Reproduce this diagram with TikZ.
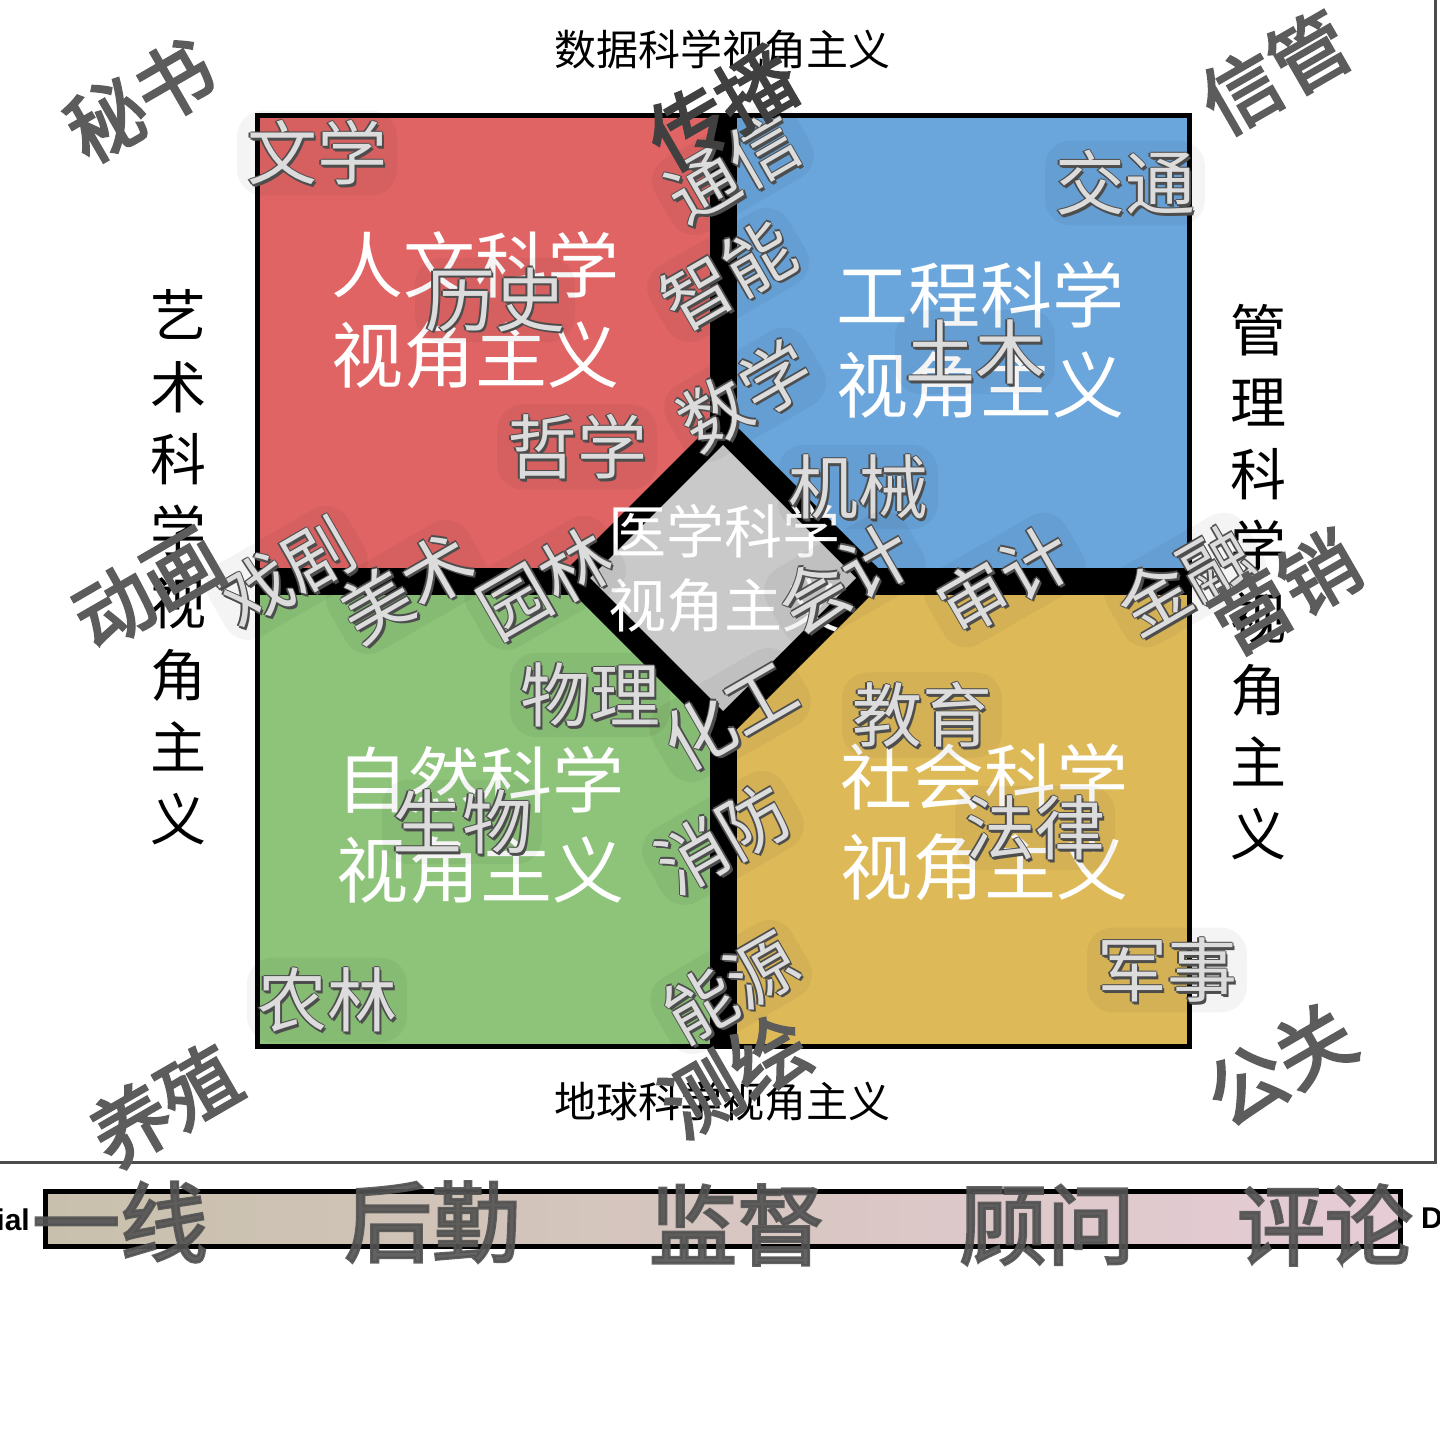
\documentclass[tikz,border=0pt]{standalone}
\usepackage{fontspec}
\newfontfamily\cjk{Noto Sans CJK SC}
\newfontfamily\cjkb{Noto Sans CJK SC}[FakeBold=3]
\setsansfont{Liberation Sans}
\definecolor{qred}{HTML}{E06464}
\definecolor{qblue}{HTML}{6AA6DC}
\definecolor{qgreen}{HTML}{8DC47A}
\definecolor{qyellow}{HTML}{DDB958}
\definecolor{qgrey}{HTML}{C9C9C9}
\definecolor{barl}{HTML}{C8C0AC}
\definecolor{barr}{HTML}{E6CCD6}
\definecolor{wmdark}{HTML}{5C5C5C}
\definecolor{wmshadow}{HTML}{4D4D4D}
\definecolor{wmlight}{HTML}{DCDCDC}
\tikzset{
  ttl/.style={text=white, font=\cjk\fontsize{72}{90}\selectfont, align=center, inner sep=0pt},
  medttl/.style={text=white, font=\cjk\fontsize{58}{74}\selectfont, align=center, inner sep=0pt},
  outl/.style={text=black, font=\cjk\fontsize{42}{42}\selectfont, inner sep=0pt},
  vlab/.style={text=black, font=\cjk\fontsize{56}{72}\selectfont, align=center, inner sep=0pt},
  dk/.style={text=wmdark, font=\cjkb\fontsize{78}{78}\selectfont, rotate=30, inner sep=0pt},
  barwm/.style={text=black!68, text opacity=0.9, font=\cjkb\fontsize{88}{88}\selectfont, inner sep=0pt},
  halo/.style={fill=black, fill opacity=0.045, text opacity=0, rounded corners=26pt, inner sep=10pt, font=\cjk\fontsize{70}{70}\selectfont},
  embsh/.style={text=wmshadow, font=\cjk\fontsize{70}{70}\selectfont, inner sep=0pt},
  embtx/.style={text=wmlight, font=\cjk\fontsize{70}{70}\selectfont, inner sep=0pt},
  frameline/.style={draw=black!70, line width=3pt},
  edgelab/.style={text=black, font=\sffamily\bfseries\fontsize{30}{30}\selectfont, inner sep=0pt}
}
\begin{document}
\begin{tikzpicture}[x=1pt,y=-1pt]
\useasboundingbox (0,0) rectangle (1440,1440);
\fill[white] (0,0) rectangle (1440,1440);

% frame
\coordinate (f1) at (1435,0);
\coordinate (f2) at (1435,1162);
\coordinate (f3) at (0,1162);
\draw[frameline] (f1) -- (f2) -- (f3);

% quadrants
\fill[black] (255,113) rectangle (1192,1049);
\fill[qred] (260,118) rectangle (710,568);
\fill[qblue] (737,118) rectangle (1187,568);
\fill[qgreen] (260,595) rectangle (710,1044);
\fill[qyellow] (737,595) rectangle (1187,1044);
\fill[black] (723,413) -- (888,578) -- (723,743) -- (558,578) -- cycle;
\fill[qgrey] (723,445) -- (856,578) -- (723,711) -- (590,578) -- cycle;

% titles
\node[ttl] (hum) at (475,310) {人文科学\\视角主义};
\node[ttl] (eng) at (980,340) {工程科学\\视角主义};
\node[ttl] (nat) at (480,825) {自然科学\\视角主义};
\node[ttl] (soc) at (984,822) {社会科学\\视角主义};
\node[medttl] (med) at (724,568) {医学科学\\视角主义};

% outer labels
\node[outl] (top) at (722,50) {数据科学视角主义};
\node[outl] (bot) at (722,1102) {地球科学视角主义};
\node[vlab] (lft) at (178,567) {艺\\术\\科\\学\\视\\角\\主\\义};
\node[vlab] (rgt) at (1258,582) {管\\理\\科\\学\\视\\角\\主\\义};

% embossed watermarks
\foreach \w/\x/\y/\r [count=\i] in {
  文学/317/153/0, 交通/1125/183/0, 历史/495/300/0, 哲学/577/447/0,
  土木/975/352/0, 机械/858/487/0, 物理/590/695/0, 生物/462/822/0,
  教育/922/715/0, 法律/1035/828/0, 农林/327/1000/0, 军事/1167/970/0,
  通信/733/168/30, 智能/728/275/30, 数学/745/395/30, 戏剧/287/573/30,
  美术/407/587/30, 园林/545/583/30, 会计/845/578/30, 审计/1005/580/30,
  金融/1185/580/30, 化工/730/715/30, 消防/723/838/30, 能源/731/987/30}
{
  \node[halo, rotate=\r] (h\i) at (\x,\y) {\w};
  \foreach \dx/\dy [count=\j] in {-1.5/0, 1.5/0, 0/-1.5, 0/1.5, 2.5/2.5}
    \node[embsh, rotate=\r] (s\i-\j) at (\x+\dx,\y+\dy) {\w};
  \node[embtx, rotate=\r] (e\i) at (\x,\y) {\w};
}

% dark watermarks
\node[dk] (w1) at (140,100) {秘书};
\node[dk] (w2) at (1275,72) {信管};
\node[dk, text=black!75] (w3) at (722,108) {传播};
\node[dk] (w4) at (148,588) {动画};
\node[dk] (w5) at (1285,592) {营销};
\node[dk] (w6) at (165,1105) {养殖};
\node[dk] (w7) at (1280,1065) {公关};
\node[dk] (w8) at (735,1075) {测绘};

% bottom bar
\draw[line width=5pt, left color=barl, right color=barr] (45,1191) rectangle (1400,1246);
\node[edgelab, anchor=east] (ial) at (30,1220) {ial};
\node[edgelab, anchor=west] (dd) at (1421,1218) {D};
\node[barwm] (b1) at (120,1222) {一线};
\node[barwm] (b2) at (432,1222) {后勤};
\node[barwm] (b3) at (737,1225) {监督};
\node[barwm] (b4) at (1047,1225) {顾问};
\node[barwm] (b5) at (1325,1225) {评论};
\end{tikzpicture}
\end{document}
